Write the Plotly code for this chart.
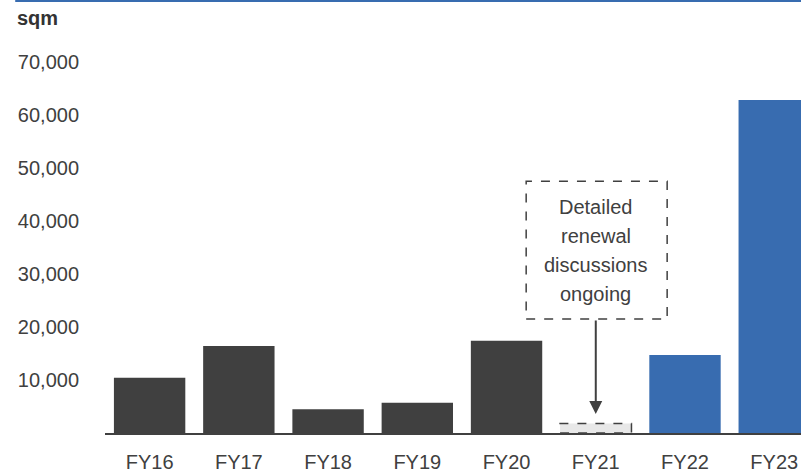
import plotly.graph_objects as go

categories = ["FY16", "FY17", "FY18", "FY19", "FY20", "FY21", "FY22", "FY23"]
values = [10400, 16400, 4500, 5700, 17400, 1800, 14700, 62800]
bar_colors = ["#404040", "#404040", "#404040", "#404040", "#404040", "#e8e8e8", "#386cb0", "#386cb0"]
y_ticks = [10000, 20000, 30000, 40000, 50000, 60000, 70000]
note_lines = ["Detailed", "renewal", "discussions", "ongoing"]
note_index = 5
note_box_bottom = 21500
note_box_top = 47500

fig = go.Figure()
fig.add_trace(go.Bar(x=list(range(len(categories))), y=values, marker=dict(color=bar_colors, line=dict(width=0)),
                     width=0.8, showlegend=False, hoverinfo="skip"))

# dashed outline around the FY21 bar
fig.add_shape(type="rect", xref="x", yref="y", x0=note_index - 0.4, x1=note_index + 0.4, y0=0, y1=values[note_index],
              line=dict(color="#404040", width=1.5, dash="dash"), fillcolor="rgba(0,0,0,0)")
# dashed note box
fig.add_shape(type="rect", xref="x", yref="y", x0=note_index - 0.78, x1=note_index + 0.8,
              y0=note_box_bottom, y1=note_box_top,
              line=dict(color="#404040", width=1.5, dash="dash"), fillcolor="rgba(0,0,0,0)")
line_step = 29
n = len(note_lines)
for i, line in enumerate(note_lines):
    fig.add_annotation(x=note_index, y=(note_box_bottom + note_box_top) / 2, xref="x", yref="y",
                       text=line, showarrow=False, yshift=((n - 1) / 2 - i) * line_step,
                       font=dict(size=20, color="#404040", family="Arial, Liberation Sans"))
# arrow
fig.add_annotation(x=note_index, y=values[note_index] + 1800, xref="x", yref="y",
                   ax=note_index, ay=note_box_bottom, axref="x", ayref="y",
                   showarrow=True, arrowhead=2, arrowsize=1.3, arrowwidth=2, arrowcolor="#404040", text="")

# top blue rule
fig.add_shape(type="line", xref="paper", yref="paper", x0=-0.129, x1=1, y0=1.0, y1=1.0,
              line=dict(color="#386cb0", width=2))
fig.add_annotation(text="<b>sqm</b>", xref="paper", yref="paper", x=-0.129, y=0.96, xanchor="left", yanchor="middle",
                   showarrow=False, font=dict(size=20, color="#333333", family="Arial, Liberation Sans"))

fig.update_layout(
    width=801, height=474,
    margin=dict(l=105, r=0, t=1, b=41),
    plot_bgcolor="white", paper_bgcolor="white",
    font=dict(family="Arial, Liberation Sans", size=20, color="#404040"),
    bargap=0.2,
    xaxis=dict(range=[-0.5, 7.3], tickmode="array", tickvals=list(range(len(categories))), ticktext=categories,
               showline=True, linecolor="#404040", linewidth=2, ticks="", showgrid=False, zeroline=False,
               tickfont=dict(size=20, color="#404040"), ticklabelstandoff=10, fixedrange=True, automargin=False),
    yaxis=dict(range=[0, 81500], tickmode="array", tickvals=y_ticks, tickformat=",", showgrid=False,
               zeroline=False, showline=False, ticks="", tickfont=dict(size=20, color="#404040"),
               ticklabelstandoff=25, fixedrange=True, automargin=False),
)

fig.write_html("out.html", config={"displayModeBar": False},
               post_script="document.body.style.margin='0';document.body.style.overflow='hidden';")
